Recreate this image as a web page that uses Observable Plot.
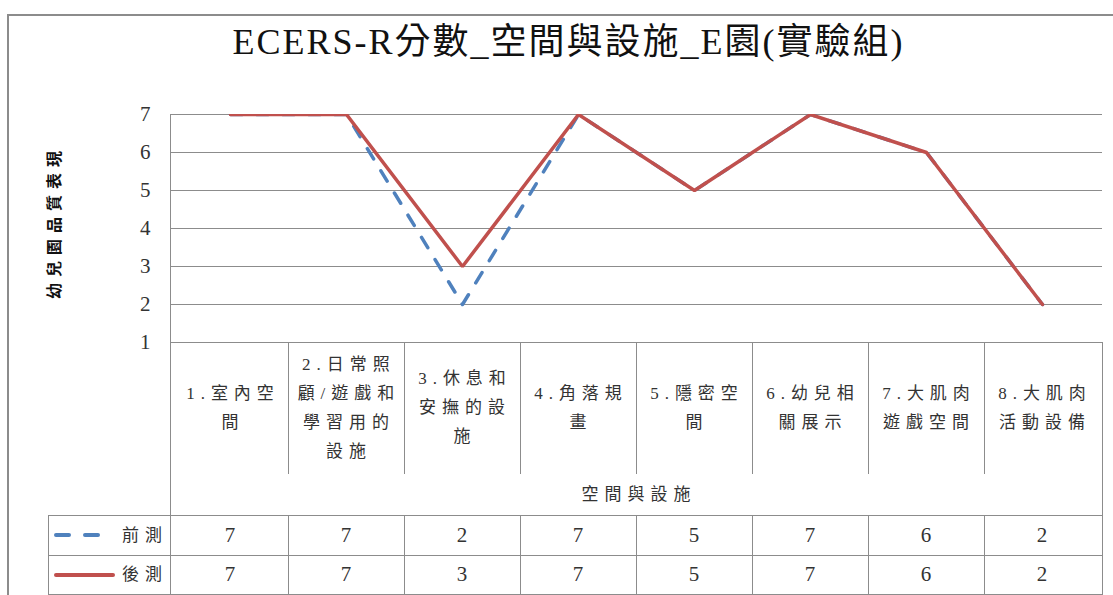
<!DOCTYPE html>
<html><head><meta charset="utf-8">
<script src="https://cdn.jsdelivr.net/npm/d3@7"></script>
<script src="https://cdn.jsdelivr.net/npm/@observablehq/plot@0.6"></script>
<style>
body{margin:0;background:#fff;}
#root{position:relative;width:1113px;height:595px;overflow:hidden;font-family:"Liberation Serif","Noto Sans CJK TC",serif;color:#222;background:#fff;}
#root > svg{position:absolute;left:0;top:0;}
.abs{position:absolute;}
.ln{position:absolute;background:#8c8c8c;}
.cat{position:absolute;display:flex;align-items:center;justify-content:center;text-align:center;white-space:pre-line;font-size:17px;letter-spacing:6px;line-height:29px;color:#333;}
.val{position:absolute;display:flex;align-items:center;justify-content:center;font-size:21px;color:#333;}
</style></head><body><div id="root"></div>
<script>
const title = "ECERS-R分數_空間與設施_E園(實驗組)";
const yTitle = "幼兒園品質表現";
const xTitle = "空間與設施";
const categories = ["1.室內空間","2.日常照顧/遊戲和學習用的設施","3.休息和安撫的設施","4.角落規畫","5.隱密空間","6.幼兒相關展示","7.大肌肉遊戲空間","8.大肌肉活動設備"];
const categoryLabels = ["1.室內空\n間","2.日常照\n顧/遊戲和\n學習用的\n設施","3.休息和\n安撫的設\n施","4.角落規\n畫","5.隱密空\n間","6.幼兒相\n關展示","7.大肌肉\n遊戲空間","8.大肌肉\n活動設備"];
const seriesNames = ["前測","後測"];
const pretest = [7,7,2,7,5,7,6,2];
const posttest = [7,7,3,7,5,7,6,2];
const seriesColors = ["#4F81BD","#C0504D"];
const yTicks = [1,2,3,4,5,6,7];

const W = 1113, H = 362;
const seriesValues = [pretest, posttest];
const data = seriesNames.flatMap((s, si) => categories.map((c, i) => ({cat: c, series: s, v: seriesValues[si][i]})));

const plot = Plot.plot({
  width: W, height: H,
  marginLeft: 170, marginRight: W - 1102, marginTop: 114, marginBottom: H - 342,
  style: {background: "transparent", fontFamily: '"Liberation Serif","Noto Sans CJK TC",serif', fontSize: "21px", color: "#333"},
  x: {type: "point", domain: categories, padding: 0.5, axis: null},
  y: {domain: [1, 7], label: null, axis: null},
  marks: [
    Plot.gridY(yTicks, {stroke: "#8c8c8c", strokeOpacity: 1}),
    Plot.axisY(yTicks, {tickSize: 0, tickPadding: 20, label: null, fontSize: 21}),
    Plot.frame({anchor: "left", stroke: "#8c8c8c"}),
    Plot.line(data.filter(d => d.series === seriesNames[0]), {x: "cat", y: "v", stroke: seriesColors[0], strokeWidth: 3.5, strokeDasharray: "12,14", strokeLinecap: "round", clip: true}),
    Plot.line(data.filter(d => d.series === seriesNames[1]), {x: "cat", y: "v", stroke: seriesColors[1], strokeWidth: 3.5, strokeLinejoin: "miter", clip: true})
  ]
});
const root = document.getElementById("root");
root.appendChild(plot);

const xs = plot.scale("x");
const step = xs.apply(categories[1]) - xs.apply(categories[0]);
const x0 = i => xs.apply(categories[i]) - step / 2;
const L = 170, R = 1102, legL = 48;
const yCatTop = 342, yCatBot = 473, yRow1 = 515, yRow2 = 555, yBot = 594;

function el(cls, css, text) {
  const d = document.createElement("div");
  d.className = cls;
  Object.assign(d.style, css);
  if (text != null) d.textContent = text;
  root.appendChild(d);
  return d;
}
const hline = (a, b, y) => el("ln", {left: a + "px", top: y + "px", width: (b - a + 1) + "px", height: "1px"});
const vline = (x, a, b) => el("ln", {left: x + "px", top: a + "px", width: "1px", height: (b - a + 1) + "px"});

// outer chart border
el("abs", {left: "7px", top: "14px", width: "1300px", height: "800px", borderLeft: "2px solid #8c8c8c", borderTop: "2px solid #8c8c8c"});

// title
el("abs", {left: "12px", top: "18px", width: W + "px", height: "48px", lineHeight: "48px", textAlign: "center", fontSize: "36px", letterSpacing: "2px", color: "#111"}, title);

// y title
el("abs", {left: "53px", top: "225px", transform: "translate(-50%,-50%) rotate(-90deg)", whiteSpace: "nowrap", fontSize: "16px", fontWeight: "bold", letterSpacing: "6px", paddingLeft: "6px", color: "#111"}, yTitle);

// table lines
vline(L, yCatTop, yBot);
vline(R, yCatTop, yBot);
for (let i = 1; i < categories.length; i++) {
  vline(Math.round(x0(i)), yCatTop, yCatBot);
  vline(Math.round(x0(i)), yRow1, yBot);
}
vline(legL, yRow1, yBot);
hline(legL, R, yRow1);
hline(legL, R, yRow2);
hline(legL, R, yBot);

// category labels
categories.forEach((c, i) => {
  el("cat", {left: x0(i) + "px", top: yCatTop + "px", width: step + "px", height: (yCatBot - yCatTop) + "px", paddingLeft: "6px", boxSizing: "border-box"}, categoryLabels[i]);
});
// axis title row
el("cat", {left: L + "px", top: yCatBot + "px", width: (R - L) + "px", height: (yRow1 - yCatBot) + "px", paddingLeft: "6px", boxSizing: "border-box"}, xTitle);

// data values
const rowTops = [yRow1, yRow2], rowBots = [yRow2, yBot];
seriesValues.forEach((vals, si) => {
  vals.forEach((v, i) => {
    el("val", {left: x0(i) + "px", top: rowTops[si] + "px", width: step + "px", height: (rowBots[si] - rowTops[si]) + "px"}, String(v));
  });
  // legend label
  el("cat", {left: "110px", top: rowTops[si] + "px", width: "58px", height: (rowBots[si] - rowTops[si]) + "px", justifyContent: "flex-end", letterSpacing: "6px"}, seriesNames[si]);
  // legend swatch
  const sw = d3.create("svg").attr("width", 70).attr("height", 10)
    .style("position", "absolute").style("left", "50px").style("top", ((rowTops[si] + rowBots[si]) / 2 - 5) + "px");
  const x2 = si === 0 ? 100 - 50 : 113 - 50;
  sw.append("line").attr("x1", 6).attr("x2", x2).attr("y1", 5).attr("y2", 5)
    .attr("stroke", seriesColors[si]).attr("stroke-width", 4).attr("stroke-linecap", "round")
    .attr("stroke-dasharray", si === 0 ? "13,16" : null);
  root.appendChild(sw.node());
});
</script>
</body></html>
